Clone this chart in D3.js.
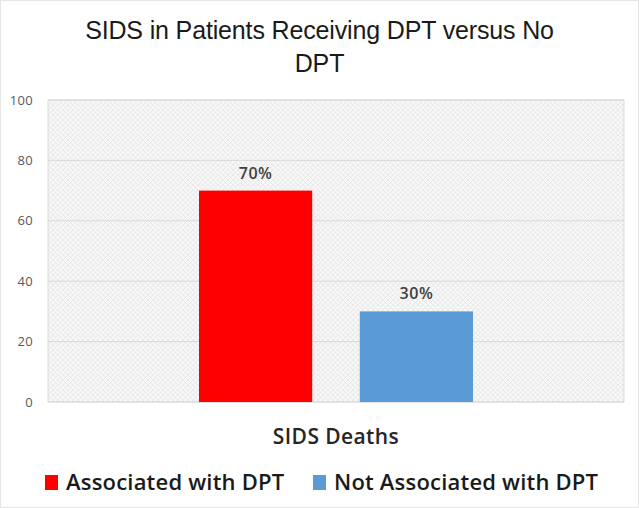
<!DOCTYPE html>
<html>
<head>
<meta charset="utf-8">
<script src="https://cdn.jsdelivr.net/npm/d3@7"></script>
<style>
  body { margin: 0; background: #fff; }
  svg { display: block; }
</style>
</head>
<body>
<div id="chart"></div>
<script>
    // chart data
    var categories = ['SIDS Deaths'];
    var seriesNames = ['Associated with DPT', 'Not Associated with DPT'];
    var seriesValues = [70, 30];
    var seriesColors = ['#ff0000', '#5b9bd5'];
    var yTicks = [0, 20, 40, 60, 80, 100];
    var titleLines = ['SIDS in Patients Receiving DPT versus No', 'DPT'];

    var width = 639, height = 508;
    var margin = {top: 100, right: 15, bottom: 106, left: 48};

    var svg = d3.select('#chart')
        .append('svg')
        .attr('width', width)
        .attr('height', height);

    // hatched background pattern for the plot area
    var defs = svg.append('defs');
    var pat = defs.append('pattern')
        .attr('id', 'hatch')
        .attr('patternUnits', 'userSpaceOnUse')
        .attr('width', 5)
        .attr('height', 5);
    pat.append('rect').attr('width', 5).attr('height', 5).attr('fill', '#f7f7f7');
    pat.append('path').attr('d', 'M0,0L5,5M5,0L0,5').attr('stroke', '#e2e2e2').attr('stroke-width', 0.7);

    // outer chart border
    svg.append('rect')
        .attr('x', 0.5).attr('y', 0.5)
        .attr('width', width - 1).attr('height', height - 1)
        .attr('fill', 'none')
        .attr('stroke', '#e6e6e6');

    var innerW = width - margin.left - margin.right;
    var innerH = height - margin.top - margin.bottom;

    var g = svg.append('g')
        .attr('transform', 'translate(' + margin.left + ',' + margin.top + ')');

    var y = d3.scaleLinear().domain([0, 100]).range([innerH, 0]);

    var x0 = d3.scaleBand()
        .domain(categories)
        .range([0, innerW])
        .paddingInner(0)
        .paddingOuter(0.551);

    var x1 = d3.scaleBand()
        .domain(seriesNames)
        .range([0, x0.bandwidth()])
        .paddingInner(0.296);

    g.append('rect')
        .attr('width', innerW)
        .attr('height', innerH)
        .attr('fill', 'url(#hatch)')
        .attr('stroke', '#d9d9d9');

    // gridlines
    g.selectAll('.grid')
        .data(yTicks)
        .enter()
        .append('line')
        .attr('x1', 0)
        .attr('x2', innerW)
        .attr('y1', function (d) { return y(d); })
        .attr('y2', function (d) { return y(d); })
        .attr('stroke', '#d9d9d9')
        .attr('stroke-width', 1);

    // y axis labels
    var yAxis = d3.axisLeft(y).tickValues(yTicks).tickSize(0).tickPadding(15);
    var ya = g.append('g').call(yAxis);
    ya.select('.domain').remove();
    ya.selectAll('text')
        .attr('fill', '#595959')
        .style('font-family', '"Open Sans", sans-serif')
        .style('font-size', '13px')
        .style('letter-spacing', '0.3px');

    var bars = g.selectAll('.bar')
        .data(seriesValues)
        .enter()
        .append('rect')
        .attr('x', function (d, i) { return x0(categories[0]) + x1(seriesNames[i]); })
        .attr('y', function (d) { return y(d); })
        .attr('width', x1.bandwidth())
        .attr('height', function (d) { return innerH - y(d); })
        .attr('fill', function (d, i) { return seriesColors[i]; });

    // value labels
    g.selectAll('.lbl')
        .data(seriesValues)
        .enter()
        .append('text')
        .attr('x', function (d, i) { return x0(categories[0]) + x1(seriesNames[i]) + x1.bandwidth() / 2; })
        .attr('y', function (d) { return y(d) - 12; })
        .attr('text-anchor', 'middle')
        .attr('fill', '#404040')
        .style('font-family', '"Open Sans", sans-serif')
        .style('font-weight', '600')
        .style('font-size', '16px')
        .style('letter-spacing', '0.5px')
        .text(function (d) { return d + '%'; });

    // category label
    svg.append('text')
        .attr('x', margin.left + x0(categories[0]) + x0.bandwidth() / 2)
        .attr('y', 444)
        .attr('text-anchor', 'middle')
        .attr('fill', '#262626')
        .style('font-family', '"Open Sans", sans-serif')
        .style('font-weight', '600')
        .style('font-size', '21px')
        .style('letter-spacing', '0.4px')
        .text(categories[0]);

    // title
    svg.selectAll('.title')
        .data(titleLines)
        .enter()
        .append('text')
        .attr('x', width / 2)
        .attr('y', function (d, i) { return 39 + i * 33; })
        .attr('text-anchor', 'middle')
        .attr('fill', '#1a1a1a')
        .style('font-family', '"Liberation Sans Narrow", "Arial Narrow", sans-serif')
        .style('font-size', '25px')
        .style('letter-spacing', '-0.15px')
        .text(function (d) { return d; });

    // legend
    var legendX = [45, 313];
    var legend = svg.selectAll('.legend')
        .data(seriesNames)
        .enter()
        .append('g')
        .attr('transform', function (d, i) { return 'translate(' + legendX[i] + ',482)'; });

    legend.append('rect')
        .attr('x', 0)
        .attr('y', -7)
        .attr('width', 13)
        .attr('height', 15)
        .attr('fill', function (d, i) { return seriesColors[i]; });

    legend.append('text')
        .attr('x', 21)
        .attr('y', 8)
        .attr('fill', '#1a1a1a')
        .style('font-family', '"Open Sans", sans-serif')
        .style('font-weight', '600')
        .style('font-size', '22px')
        .style('letter-spacing', '0.2px')
        .text(function (d) { return d; });
</script>
</body>
</html>
